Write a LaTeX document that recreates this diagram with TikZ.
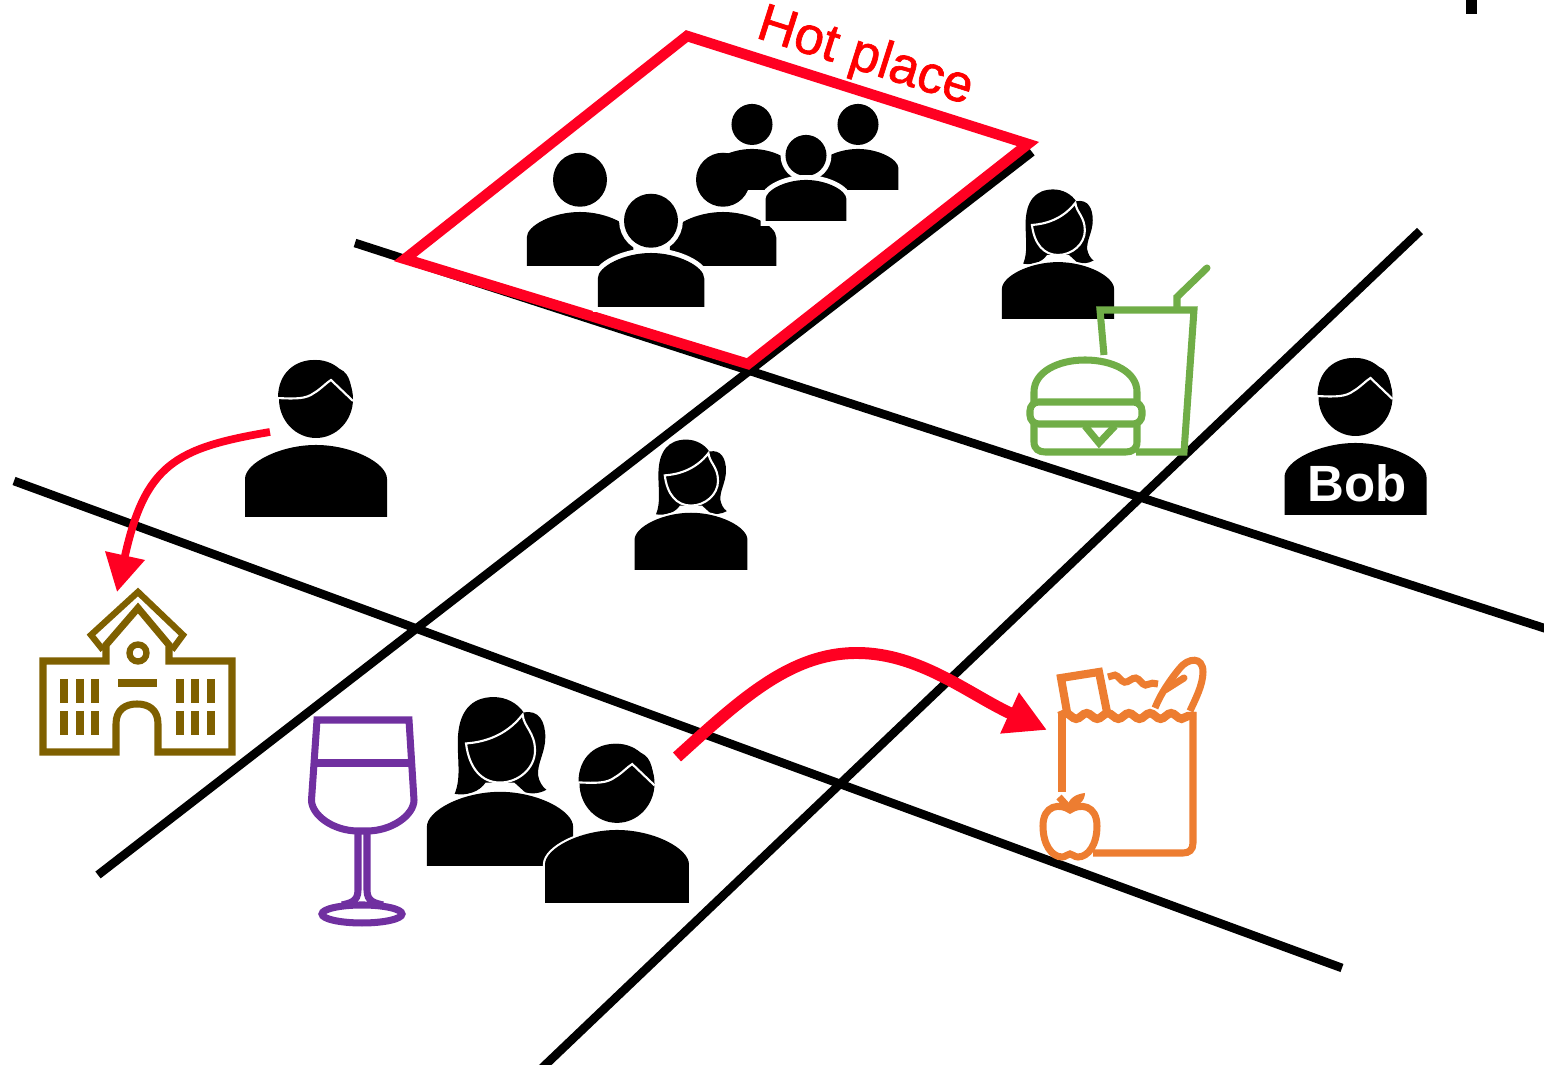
\documentclass[tikz,border=0pt]{standalone}
\usepackage{fontspec}
\setmainfont{Liberation Sans}
\newfontfamily\hotfont[FakeBold=1.2]{Liberation Sans}
\usetikzlibrary{arrows.meta, decorations.pathmorphing}

\definecolor{hotred}{HTML}{FF0022}
\definecolor{schoolbrown}{HTML}{7F6000}
\definecolor{winepurple}{HTML}{7030A0}
\definecolor{shoporange}{HTML}{ED7D31}
\definecolor{foodgreen}{HTML}{70AD47}

\tikzset{
    road/.style={line width=2.45pt},
    hotzone/.style={draw=hotred, line width=3pt, miter limit=10},
    moveline/.style={draw=hotred, line width=2.2pt},
    figure/.style={fill=black, preaction={draw=white, line width=1.2pt}},
    widehalo/.style={figure/.style={fill=black, preaction={draw=white, line width=2.8pt}}},
    nohalo/.style={figure/.style={fill=black}},
    icon/.style={line width=2pt},
    wavy/.style={decorate, decoration={snake, amplitude=0.8pt, segment length=6pt}},
    torso/.pic={
        \path[figure] (-71,0) -- (-71,-38) .. controls (-71,-54) and (-36,-72) .. (0,-72)
            .. controls (36,-72) and (71,-54) .. (71,-38) -- (71,0) -- cycle;
    },
    person/.pic={
        \path[figure] (0,-115) ellipse (36 and 36);
        \pic[transform shape] {torso};
    },
    man/.pic={
        \fill (0,-118) ellipse (37 and 39);
        \fill (-38,-119) .. controls (-38,-145) and (-20,-157) .. (-2,-157)
            .. controls (8,-157) and (14,-153) .. (20,-149)
            .. controls (32,-147) and (36,-135) .. (36,-118) -- cycle;
        \draw[white, line width=0.6pt] (-39,-119) .. controls (-20,-118) and (-10,-118) .. (-2,-124)
            .. controls (5,-128) and (10,-134) .. (15,-137) -- (37,-116);
        \pic[transform shape] {torso};
    },
    woman/.pic={
        \fill (-44,-70) .. controls (-38,-85) and (-41,-100) .. (-41,-120)
            .. controls (-41,-150) and (-28,-164) .. (-6,-164)
            .. controls (6,-164) and (17,-158) .. (23,-149)
            .. controls (38,-152) and (44,-140) .. (44,-125)
            .. controls (44,-110) and (36,-100) .. (37,-88)
            .. controls (38,-82) and (41,-77) .. (45,-74)
            .. controls (38,-70) and (30,-70) .. (25,-71) -- (14,-81) -- (-14,-81)
            .. controls (-20,-72) and (-32,-68) .. (-44,-70) -- cycle;
        \draw[white, fill=black, line width=0.6pt] (-33,-119) .. controls (-18,-120) and (5,-125) .. (22,-147)
            .. controls (23,-135) and (34,-130) .. (34,-112)
            .. controls (34,-95) and (18,-81) .. (0,-81)
            .. controls (-18,-81) and (-30,-95) .. (-33,-119) -- cycle;
        \pic[transform shape] {torso};
    }
}

\begin{document}
\begin{tikzpicture}[x=0.01cm, y=-0.01cm]
    \useasboundingbox (0,0) rectangle (1544,1065);
    % Corner mark
    \fill (1466,0) rectangle (1477,14);

    % Roads
    \coordinate (roadAstart) at (355,243);
    \coordinate (roadAend) at (1550,630);
    \coordinate (roadBstart) at (14,481);
    \coordinate (roadBend) at (1342,968);
    \coordinate (roadCstart) at (98,875);
    \coordinate (roadCend) at (1032,152);
    \coordinate (roadDstart) at (540,1070);
    \coordinate (roadDend) at (1420,231);
    \draw[road] (roadAstart) -- (roadAend);
    \draw[road] (roadBstart) -- (roadBend);
    \draw[road] (roadCstart) -- (roadCend);
    \draw[road] (roadDstart) -- (roadDend);

    % Hot place
    \coordinate (hotN) at (687,36);
    \coordinate (hotE) at (1028,144);
    \coordinate (hotS) at (748,364);
    \coordinate (hotW) at (405,259);
    \draw[hotzone] (hotN) -- (hotE) -- (hotS) -- (hotW) -- cycle;
    \node[text=red, font=\hotfont\fontsize{15}{18}\selectfont, rotate=-17.6] (hotlabel) at (865,58) {Hot place};

    % Crowd
    \pic[nohalo, scale=0.75] at (723,266) {person};
    \pic[nohalo, scale=0.57] at (752,190) {person};
    \pic[nohalo, scale=0.57] at (858,190) {person};
    \pic[widehalo, scale=0.57] at (806,221) {person};
    \pic[widehalo, scale=0.75] at (580,266) {person};
    \pic[widehalo, scale=0.75] at (651,307) {person};

    % People
    \pic[scale=0.79] at (1058,319) {woman};
    \pic[scale=0.795] at (691,570) {woman};
    \pic at (316,517) {man};
    \pic at (1355.5,515) {man};
    \node[text=white, font=\bfseries\fontsize{14.5}{17}\selectfont] (bobname) at (1357,483) {Bob};
    \pic[scale=1.03] at (500,866) {woman};
    \pic[scale=1.014] at (617,903) {man};

    % Burger and drink
    \draw[foodgreen, icon] (1104,355) -- (1100,310) -- (1194,310) -- (1184,452) -- (1136,452);
    \draw[foodgreen, icon, line cap=round] (1177,307) -- (1177,297) -- (1207,268);
    \draw[foodgreen, icon] (1034,402) -- (1034,392) .. controls (1034,372) and (1058,360) .. (1085,360)
        .. controls (1113,360) and (1137,372) .. (1137,392) -- (1137,402);
    \draw[foodgreen, icon, rounded corners=2.5pt] (1030,402) -- (1142,402) -- (1142,424) -- (1030,424) -- cycle;
    \draw[foodgreen, icon] (1034,424) -- (1034,442) .. controls (1034,449) and (1039,452) .. (1045,452)
        -- (1126,452) .. controls (1132,452) and (1137,449) .. (1137,442) -- (1137,424);
    \draw[foodgreen, icon] (1085,426) -- (1099,443) -- (1115,426);

    % School
    \draw[schoolbrown, icon] (43,661) -- (106,661) -- (106,645) -- (138,608) -- (169,645)
        -- (169,661) -- (232,661) -- (232,752) -- (158,752) -- (158,724)
        .. controls (158,710) and (149,704) .. (137,704) .. controls (125,704) and (116,710) .. (116,724)
        -- (116,752) -- (43,752) -- cycle;
    \draw[schoolbrown, icon, line width=1.8pt] (103,650) -- (91,635) -- (138,592) -- (183,635) -- (172,650);
    \draw[schoolbrown, icon, line width=1.8pt] (138,653) circle (8.5);
    \draw[schoolbrown, line width=2.2pt] (118,683) -- (157,683);
    \foreach \xbar in {64,80,95,180,195,211} {
        \draw[schoolbrown, line width=2.1pt] (\xbar,679) -- (\xbar,703);
        \draw[schoolbrown, line width=2.1pt] (\xbar,711) -- (\xbar,735);
    }

    % Wine glass
    \draw[winepurple, icon] (311.5,800) -- (317,720) -- (409,720) -- (414,800)
        .. controls (414,815) and (392,831) .. (367,831) -- (358,831)
        .. controls (333,831) and (311.5,815) .. (311.5,800) -- cycle;
    \draw[winepurple, icon] (314,763) -- (412,763);
    \draw[winepurple, icon] (358,831) -- (358,890) .. controls (358,902) and (350,903) .. (342,905);
    \draw[winepurple, icon] (367,831) -- (367,890) .. controls (367,902) and (375,903) .. (383,905);
    \draw[winepurple, icon] (362,914) ellipse (40 and 9);

    % Grocery bag
    \draw[shoporange, icon] (1062,712) -- (1062,792);
    \draw[shoporange, icon] (1193,712) -- (1193,843) .. controls (1193,850) and (1189,853) .. (1183,853) -- (1093,853);
    \draw[shoporange, icon, line width=2.4pt, wavy] (1059,716) -- (1196,716);
    \draw[shoporange, icon, line width=2.3pt] (1067,712) -- (1061,678) -- (1099,672) -- (1107,712);
    \draw[shoporange, icon, wavy] (1108,677) -- (1158,684);
    \draw[shoporange, icon] (1155,708) .. controls (1160,695) and (1170,680) .. (1180,668)
        .. controls (1188,658) and (1203,656) .. (1203,672) .. controls (1203,685) and (1195,700) .. (1190,711);
    \draw[shoporange, icon, line cap=round] (1165,690) -- (1184,678);
    \draw[shoporange, icon] (1070,810) .. controls (1060,803) and (1043,805) .. (1043,826)
        .. controls (1043,845) and (1052,857) .. (1062,857) .. controls (1066,857) and (1067,854) .. (1070,854)
        .. controls (1073,854) and (1074,857) .. (1078,857) .. controls (1088,857) and (1097,845) .. (1097,826)
        .. controls (1097,805) and (1080,803) .. (1070,810) -- cycle;
    \draw[shoporange, icon] (1059,797) -- (1068,807);
    \fill[shoporange] (1067,806) .. controls (1070,797) and (1077,794) .. (1085,793)
        .. controls (1085,801) and (1078,808) .. (1067,806) -- cycle;

    % Moves
    \coordinate (schoolfrom) at (270,432);
    \coordinate (schoolto) at (117,592);
    \coordinate (shopfrom) at (677,757);
    \coordinate (shopto) at (1047,730);
    \draw[moveline, -{Triangle[length=10.6pt, width=11pt]}] (schoolfrom) .. controls (175,448) and (145,465) .. (schoolto);
    \draw[moveline, line width=3.4pt, -{Triangle[length=11.7pt, width=12pt]}] (shopfrom) .. controls (740,700) and (790,653) .. (857,653)
        .. controls (920,653) and (970,695) .. (shopto);
\end{tikzpicture}
\end{document}
